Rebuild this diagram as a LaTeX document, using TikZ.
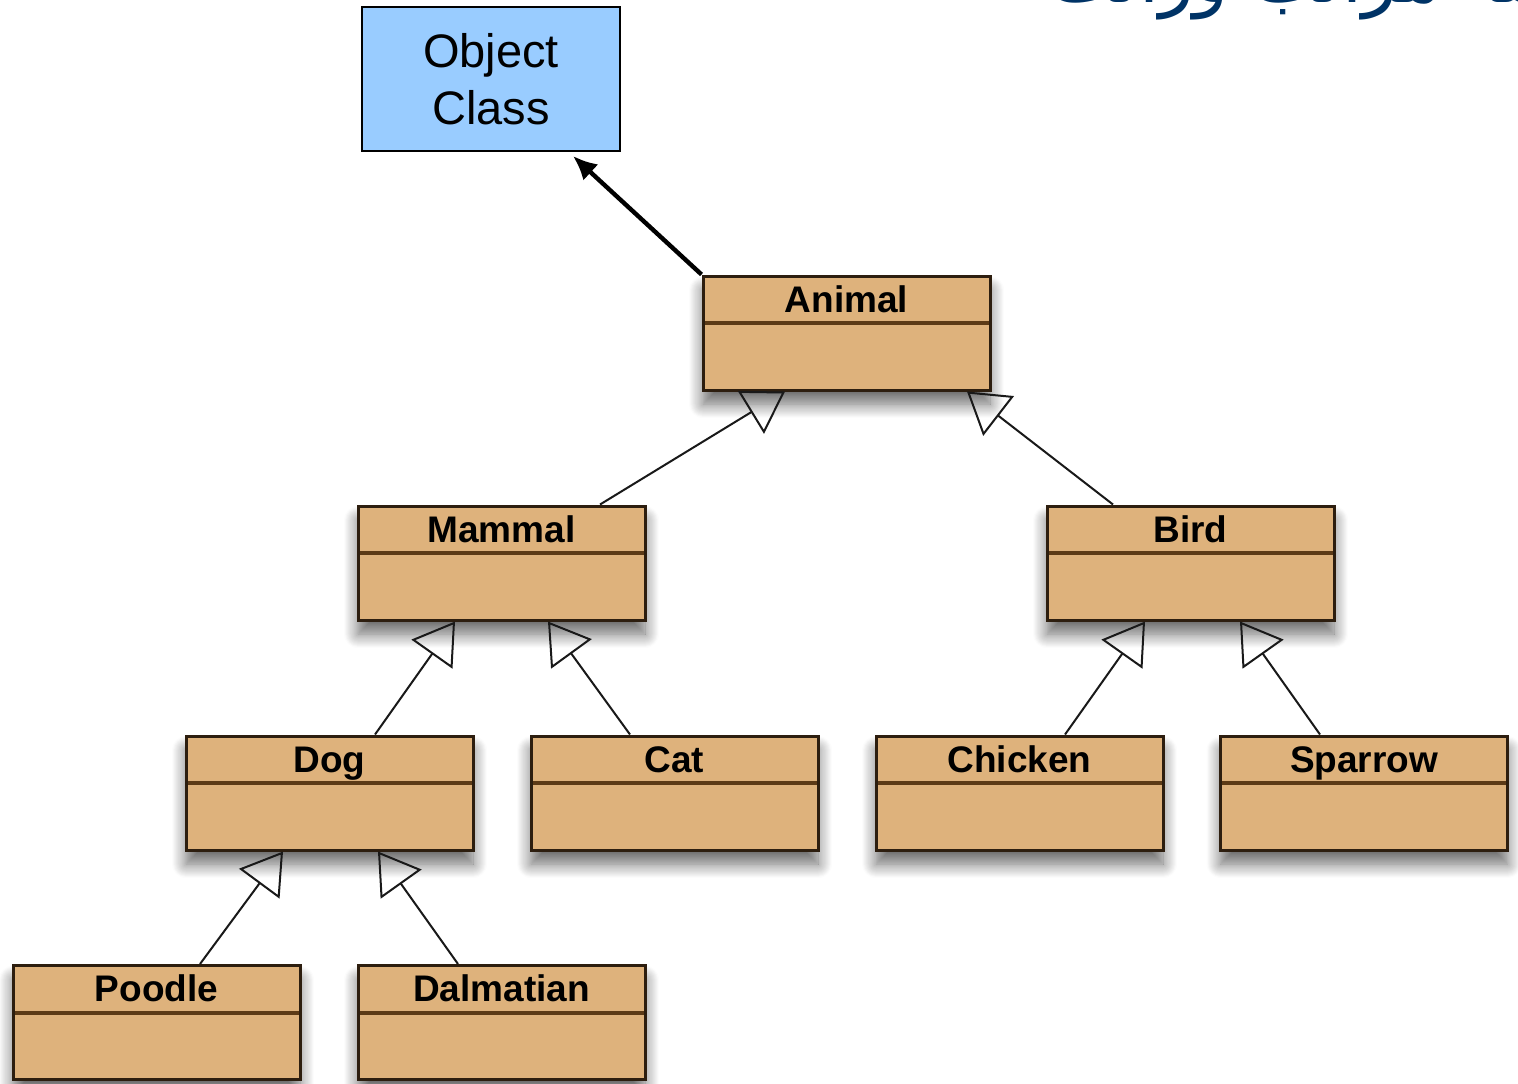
\documentclass[tikz,border=0pt]{standalone}
\usepackage{fontspec}
\setmainfont{Liberation Sans}
\newfontfamily\persianfont[Script=Arabic]{DejaVu Sans}
\TeXXeTstate=1
\usetikzlibrary{arrows.meta,shadows.blur}
\definecolor{classfill}{RGB}{222,178,124}
\definecolor{classedge}{RGB}{45,30,15}
\definecolor{dividercol}{RGB}{92,58,22}
\definecolor{objfill}{RGB}{153,204,255}
\definecolor{titleblue}{RGB}{0,51,102}

\tikzset{
  umlclass/.style={
    draw=classedge, line width=1.5pt, fill=classfill,
    minimum width=143.5pt, minimum height=57pt,
    inner xsep=0pt, inner ysep=0pt,
    text height=18pt, text depth=39pt,
    font=\bfseries\fontsize{18.5}{22}\selectfont,
    blur shadow={shadow xshift=0pt, shadow yshift=-7pt,
      shadow blur radius=7pt, shadow opacity=60, shadow blur steps=14},
    path picture={
      \draw[dividercol, line width=2pt]
        ([yshift=-23.5pt]path picture bounding box.north west) --
        ([yshift=-23.5pt]path picture bounding box.north east);
    }
  },
  objbox/.style={
    draw=black, line width=1pt, fill=objfill,
    minimum width=129pt, minimum height=72pt,
    align=center, font=\fontsize{23.5}{28.5}\selectfont
  },
  inherit/.style={
    draw=black!90, line width=1pt,
    -{Triangle[open, length=20pt, width=25pt, line width=1pt]}
  },
  toobject/.style={
    draw=black, line width=2.2pt,
    -{Latex[length=12pt, width=11pt]}
  }
}

\begin{document}
\begin{tikzpicture}[x=0.5pt, y=-0.5pt]
  \useasboundingbox (0,0) rectangle (1518,1083);

  % heading, running past the top edge
  \begin{scope}
    \clip (0,0) rectangle (1518,1083);
    \node[anchor=base west, inner sep=0pt, text=titleblue,
          font=\persianfont\fontsize{36}{42}\selectfont] (heading) at (1048,2)
      {\beginR سلسله مراتب وراثت\endR};
  \end{scope}

  % classes
  \node[objbox] (object) at (491,79) {Object\\Class};

  \node[umlclass] (animal)    at (846.5,333)   {Animal};
  \node[umlclass] (mammal)    at (501.5,563)   {Mammal};
  \node[umlclass] (bird)      at (1190.5,563)  {Bird};
  \node[umlclass] (dog)       at (329.5,793)   {Dog};
  \node[umlclass] (cat)       at (674.5,793)   {Cat};
  \node[umlclass] (chicken)   at (1019.5,793)  {Chicken};
  \node[umlclass] (sparrow)   at (1364,793)    {Sparrow};
  \node[umlclass] (poodle)    at (156.5,1022.5) {Poodle};
  \node[umlclass] (dalmatian) at (501.5,1022.5) {Dalmatian};

  % generalisation links
  \draw[inherit] ([xshift=49.25pt]mammal.north)   -- ([xshift=-30.75pt]animal.south);
  \draw[inherit] ([xshift=-38.75pt]bird.north)    -- ([xshift=60.25pt]animal.south);
  \draw[inherit] ([xshift=22.75pt]dog.north)      -- ([xshift=-23.25pt]mammal.south);
  \draw[inherit] ([xshift=-22.25pt]cat.north)     -- ([xshift=23.25pt]mammal.south);
  \draw[inherit] ([xshift=22.75pt]chicken.north)  -- ([xshift=-22.75pt]bird.south);
  \draw[inherit] ([xshift=-22pt]sparrow.north)    -- ([xshift=24.75pt]bird.south);
  \draw[inherit] ([xshift=21.75pt]poodle.north)   -- ([xshift=-23.25pt]dog.south);
  \draw[inherit] ([xshift=-21.75pt]dalmatian.north) -- ([xshift=24.25pt]dog.south);

  % root link
  \draw[toobject] (animal.north west) -- ([xshift=-24pt, yshift=-2pt]object.south east);
\end{tikzpicture}
\end{document}
